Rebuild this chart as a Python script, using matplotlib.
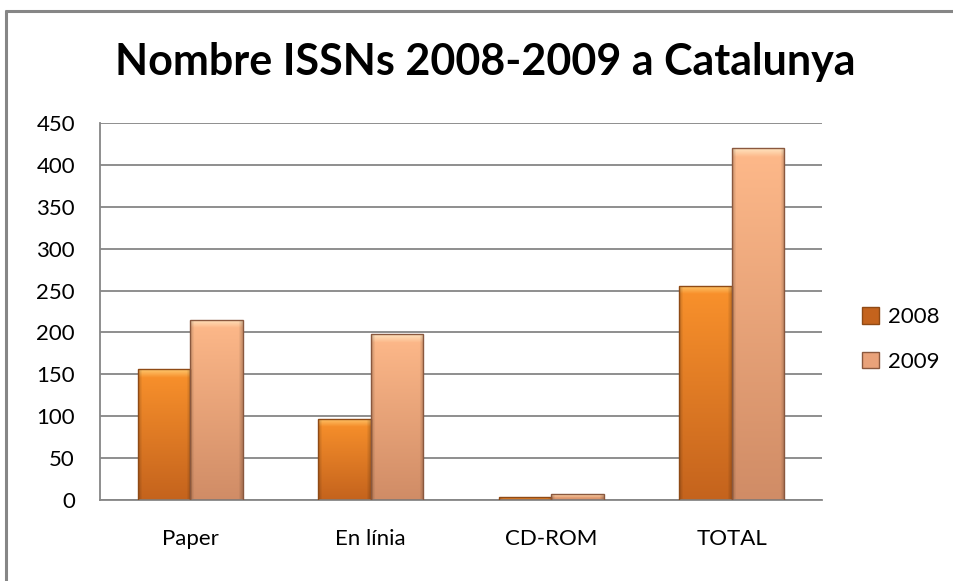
import numpy as np
import matplotlib
matplotlib.use("Agg")
import matplotlib.pyplot as plt
from matplotlib.patches import Rectangle
from matplotlib.lines import Line2D
from matplotlib.colors import to_rgb

categories = ["Paper", "En línia", "CD-ROM", "TOTAL"]
values_2008 = [156, 97, 3, 256]
values_2009 = [215, 198, 7, 420]
series_labels = ["2008", "2009"]
title = "Nombre ISSNs 2008-2009 a Catalunya"
yticks = [0, 50, 100, 150, 200, 250, 300, 350, 400, 450]

W, H = 954, 581
fig = plt.figure(figsize=(W / 100, H / 100), dpi=100)
fig.patch.set_facecolor("white")
font = ["Lato", "DejaVu Sans"]
plt.rcParams["font.family"] = font

ax = fig.add_axes([100 / W, 1 - 500 / H, 722 / W, 377 / H])
ax.set_facecolor("white")

x = np.arange(len(categories))
bw = 0.291
styles = [
    dict(top="#FA922C", bot="#C4631D", edge="#8F4A15", light="#FFD27A"),
    dict(top="#FEB98A", bot="#D08C66", edge="#8A583E", light="#FFEBC8"),
]

def shade_bars(bars, st):
    ct, cb, cl = np.array(to_rgb(st["top"])), np.array(to_rgb(st["bot"])), np.array(to_rgb(st["light"]))
    for p in bars:
        x0, y0 = p.get_x(), p.get_y()
        w, h = p.get_width(), p.get_height()
        if h <= 0:
            continue
        n = 300
        ys = np.linspace(0, 1, n)[:, None]
        col = cb[None, :] * (1 - ys) + ct[None, :] * ys
        # top bevel highlight (about 10 data units)
        band = min(10.0 / h, 0.5)
        t = np.clip((ys - (1 - band)) / band, 0, 1)
        col = col * (1 - 0.85 * t) + cl[None, :] * 0.85 * t
        img = np.repeat(col[:, None, :], 30, axis=1)
        # darker side edges
        xs = np.linspace(0, 1, 30)
        side = np.clip(1 - np.minimum(xs, 1 - xs) / 0.07, 0, 1) * 0.18
        img = img * (1 - side[None, :, None])
        im = ax.imshow(img, extent=(x0, x0 + w, y0, y0 + h), origin="lower",
                       aspect="auto", zorder=2.5, interpolation="bilinear")
        im.set_clip_path(p)

b1 = ax.bar(x - bw / 2, values_2008, bw, facecolor=styles[0]["top"],
            edgecolor=styles[0]["edge"], linewidth=1.0, zorder=3, label=series_labels[0])
b2 = ax.bar(x + bw / 2, values_2009, bw, facecolor=styles[1]["top"],
            edgecolor=styles[1]["edge"], linewidth=1.0, zorder=3, label=series_labels[1])
for p in list(b1) + list(b2):
    p.set_facecolor("none")
shade_bars(b1, styles[0])
shade_bars(b2, styles[1])

ax.set_xlim(-0.5, len(categories) - 0.5)
ax.set_ylim(0, 450)
ax.set_yticks(yticks)
ax.set_xticks(x)
ax.set_xticklabels(categories)
ax.yaxis.grid(True, color="#868686", linewidth=1.3, zorder=1)
ax.set_axisbelow(True)
for s in ["top", "right"]:
    ax.spines[s].set_visible(False)
for s in ["left", "bottom"]:
    ax.spines[s].set_color("#868686")
    ax.spines[s].set_linewidth(1.3)
ax.tick_params(axis="y", length=0, pad=18, labelsize=16, labelcolor="#000000")
ax.tick_params(axis="x", length=0, pad=21, labelsize=16, labelcolor="#000000")

# legend
h1 = Rectangle((0, 0), 1, 1, facecolor=styles[0]["bot"], edgecolor=styles[0]["edge"])
h2 = Rectangle((0, 0), 1, 1, facecolor="#E9A27A", edgecolor=styles[1]["edge"])
fig.legend([h1, h2], series_labels, loc="center left",
           bbox_to_anchor=(862 / W, 1 - 339.5 / H), frameon=False, fontsize=16,
           handlelength=0.75, handleheight=0.75, handletextpad=0.4,
           labelspacing=1.1, borderpad=0, borderaxespad=0)

# title fitted to reference width
t = fig.text((116 + 855) / 2 / W, 1 - 62 / H, title, ha="center", va="center",
             fontsize=30, fontweight="bold", color="#000000")
fig.canvas.draw()
bb = t.get_window_extent()
t.set_fontsize(30 * 739 / bb.width)

# outer chart border (only left and top edges visible in the crop)
fig.add_artist(Line2D([6 / W, 6 / W], [0, 1 - 10 / H], transform=fig.transFigure,
                      color="#868686", linewidth=2.2, solid_capstyle="butt"))
fig.add_artist(Line2D([5 / W, 1], [1 - 11 / H, 1 - 11 / H], transform=fig.transFigure,
                      color="#868686", linewidth=2.2, solid_capstyle="butt"))

fig.savefig("out.png", dpi=100, facecolor="white")
